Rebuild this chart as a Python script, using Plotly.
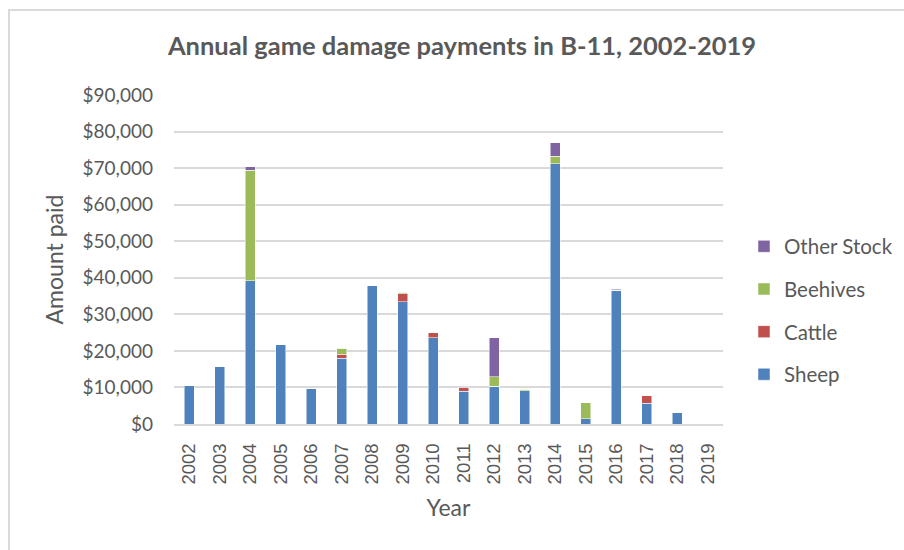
import plotly.graph_objects as go

years = [str(y) for y in range(2002, 2020)]
sheep = [10500, 15700, 39200, 21700, 9800, 18000, 37900, 33500, 23600, 9000, 10300, 9100, 71200, 1500, 36600, 5700, 3100, 0]
cattle = [0, 0, 0, 0, 0, 1100, 0, 2100, 1400, 900, 0, 0, 0, 0, 0, 2000, 0, 0]
beehives = [0, 0, 30200, 0, 0, 1600, 0, 400, 0, 0, 2650, 400, 2000, 4300, 0, 0, 0, 0]
other_stock = [0, 0, 1000, 0, 0, 0, 0, 0, 0, 200, 10600, 0, 3700, 0, 250, 0, 0, 0]

series = [
    ("Sheep", sheep, "#4F81BD", 4),
    ("Cattle", cattle, "#C0504D", 3),
    ("Beehives", beehives, "#9BBB59", 2),
    ("Other Stock", other_stock, "#8064A2", 1),
]

fig = go.Figure()
for name, vals, col, rank in series:
    fig.add_trace(go.Bar(
        x=years, y=vals, name=name, legendgroup=name, legendrank=rank,
        marker=dict(color=col, line=dict(color="white", width=0.5)),
    ))

txt = "#595959"
grid = "#d9d9d9"
L, R, T, B = 174, 723, 95, 424
W, H = 904, 550
pw, ph = R - L, B - T

fig.update_layout(
    width=W, height=H,
    margin=dict(l=L, r=W - R, t=T, b=H - B, pad=0, autoexpand=False),
    barmode="stack", bargap=0.66,
    paper_bgcolor="white", plot_bgcolor="white",
    font=dict(family="Lato, sans-serif", color=txt),
    title=dict(text="<b>Annual game damage payments in B-11, 2002-2019</b>",
               x=462 / W, xanchor="center", y=1 - 46 / H, yanchor="middle",
               font=dict(size=25.5, color=txt, family="Lato, sans-serif")),
    legend=dict(xref="container", yref="container", x=744 / W, xanchor="left",
                y=1 - 310.5 / H, yanchor="middle",
                traceorder="grouped", tracegroupgap=13,
                font=dict(size=20.5, color=txt), itemwidth=30),
    showlegend=True,
    shapes=[dict(type="rect", xref="paper", yref="paper",
                 x0=(9 - L) / pw, x1=(W + 20 - L) / pw,
                 y0=(B - (H + 20)) / ph, y1=(B - 10) / ph,
                 line=dict(color=grid, width=2), fillcolor="rgba(0,0,0,0)", layer="below")],
)
fig.update_yaxes(range=[0, 90000], dtick=10000, tickprefix="$", tickformat=",d",
                 showgrid=True, gridcolor=grid, gridwidth=1.5, zeroline=False,
                 showline=False, ticks="", ticklabelstandoff=20,
                 tickfont=dict(size=19, color=txt),
                 title=dict(text="Amount paid", font=dict(size=23, color=txt), standoff=12))
fig.update_xaxes(type="category", tickangle=-90, showgrid=False, showline=True,
                 linecolor=grid, linewidth=2, ticks="", ticklabelstandoff=10,
                 tickfont=dict(size=18.5, color=txt, family="Liberation Sans, Arial, sans-serif"),
                 title=dict(text="Year", font=dict(size=23, color=txt), standoff=16))

fig.write_html("out.html", config={"displayModeBar": False},
               post_script="document.body.style.margin='0';")
